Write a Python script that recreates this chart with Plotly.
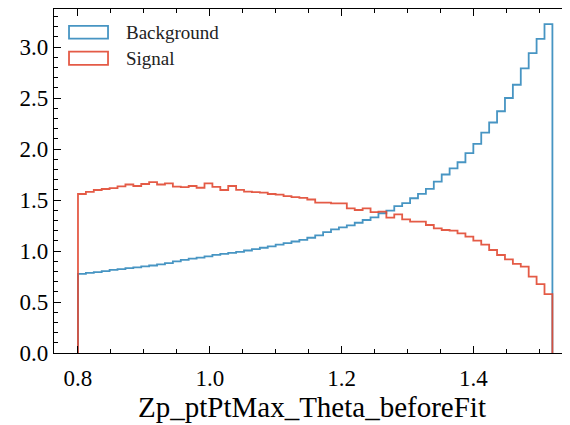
import numpy as np
import plotly.graph_objects as go

bin_edges = list(np.round(np.linspace(0.8, 1.52, 61), 4))

background = [0.775, 0.785, 0.793, 0.803, 0.815, 0.822, 0.832, 0.840, 0.850, 0.858,
              0.868, 0.882, 0.898, 0.912, 0.925, 0.935, 0.948, 0.962, 0.972, 0.982,
              0.992, 1.005, 1.018, 1.032, 1.046, 1.062, 1.077, 1.093, 1.110, 1.130,
              1.154, 1.186, 1.212, 1.232, 1.252, 1.277, 1.304, 1.330, 1.370, 1.395,
              1.440, 1.470, 1.517, 1.560, 1.610, 1.680, 1.750, 1.810, 1.870, 1.960,
              2.050, 2.160, 2.260, 2.370, 2.500, 2.630, 2.790, 2.940, 3.080, 3.225]

signal = [1.559, 1.580, 1.598, 1.608, 1.616, 1.634, 1.652, 1.637, 1.657, 1.675,
          1.652, 1.663, 1.631, 1.626, 1.637, 1.620, 1.663, 1.628, 1.598, 1.637,
          1.600, 1.582, 1.578, 1.572, 1.559, 1.552, 1.537, 1.528, 1.520, 1.505,
          1.474, 1.474, 1.467, 1.467, 1.418, 1.402, 1.418, 1.382, 1.386, 1.327,
          1.360, 1.310, 1.287, 1.287, 1.255, 1.222, 1.206, 1.199, 1.173, 1.140,
          1.101, 1.062, 1.010, 0.961, 0.918, 0.873, 0.846, 0.748, 0.676, 0.578]

series_names = ["Background", "Signal"]
series_colors = ["#348ABD", "#E24A33"]

x_ticks = [0.8, 1.0, 1.2, 1.4]
y_ticks = [0.0, 0.5, 1.0, 1.5, 2.0, 2.5, 3.0]


def step_path(edges, vals):
    xs = [edges[0]] + list(edges[:-1]) + [edges[-1], edges[-1]]
    ys = [0.0] + list(vals) + [vals[-1], 0.0]
    return xs, ys


fig = go.Figure()
for name, vals, col in zip(series_names, [background, signal], series_colors):
    xs, ys = step_path(bin_edges, vals)
    fig.add_trace(go.Scatter(x=xs, y=ys, mode="lines", name=name,
                             line=dict(color=col, width=1.8, shape="hv"),
                             opacity=0.9, showlegend=False, hoverinfo="skip"))

font_family = "Liberation Serif, DejaVu Serif, serif"

# legend drawn as outlined boxes (matplotlib step-histogram style)
legend_rows = [(0.9507, 0.9139), (0.8762, 0.8377)]
for (ytop, ybot), name, col in zip(legend_rows, series_names, series_colors):
    fig.add_shape(type="rect", xref="paper", yref="paper", x0=0.0291, x1=0.1047,
                  y0=ybot, y1=ytop, line=dict(color=col, width=1.8), opacity=0.9,
                  fillcolor="rgba(0,0,0,0)")
    fig.add_annotation(xref="paper", yref="paper", x=0.1357, y=(ytop + ybot) / 2,
                       xanchor="left", yanchor="middle", text=name, showarrow=False,
                       font=dict(size=19, family=font_family, color="#222222"))

fig.update_layout(
    width=562, height=417,
    margin=dict(l=46, r=0, t=1, b=72),
    plot_bgcolor="white", paper_bgcolor="white",
    font=dict(family=font_family, color="black"),
    showlegend=False,
    xaxis=dict(range=[0.7636, 1.5467], tickvals=x_ticks, tickformat=".1f",
               ticks="inside", ticklen=7, tickwidth=1, tickcolor="black",
               showline=True, linecolor="black", linewidth=1.3, mirror="ticks",
               showgrid=False, zeroline=False, tickfont=dict(size=23),
               ticklabelstandoff=4, automargin=False,
               minor=dict(dtick=0.05, tick0=0.8, ticks="inside", ticklen=4, tickcolor="black", showgrid=False),
               title=dict(text="Zp_ptPtMax_Theta_beforeFit", font=dict(size=29), standoff=6)),
    yaxis=dict(range=[0, 3.3725], tickvals=y_ticks, tickformat=".1f",
               ticks="inside", ticklen=7, tickwidth=1, tickcolor="black",
               showline=True, linecolor="black", linewidth=1.3, mirror=False,
               showgrid=False, zeroline=False, tickfont=dict(size=23), automargin=False,
               minor=dict(dtick=0.1, tick0=0, ticks="inside", ticklen=4, tickcolor="black", showgrid=False)),
)

fig.write_html("out.html")
